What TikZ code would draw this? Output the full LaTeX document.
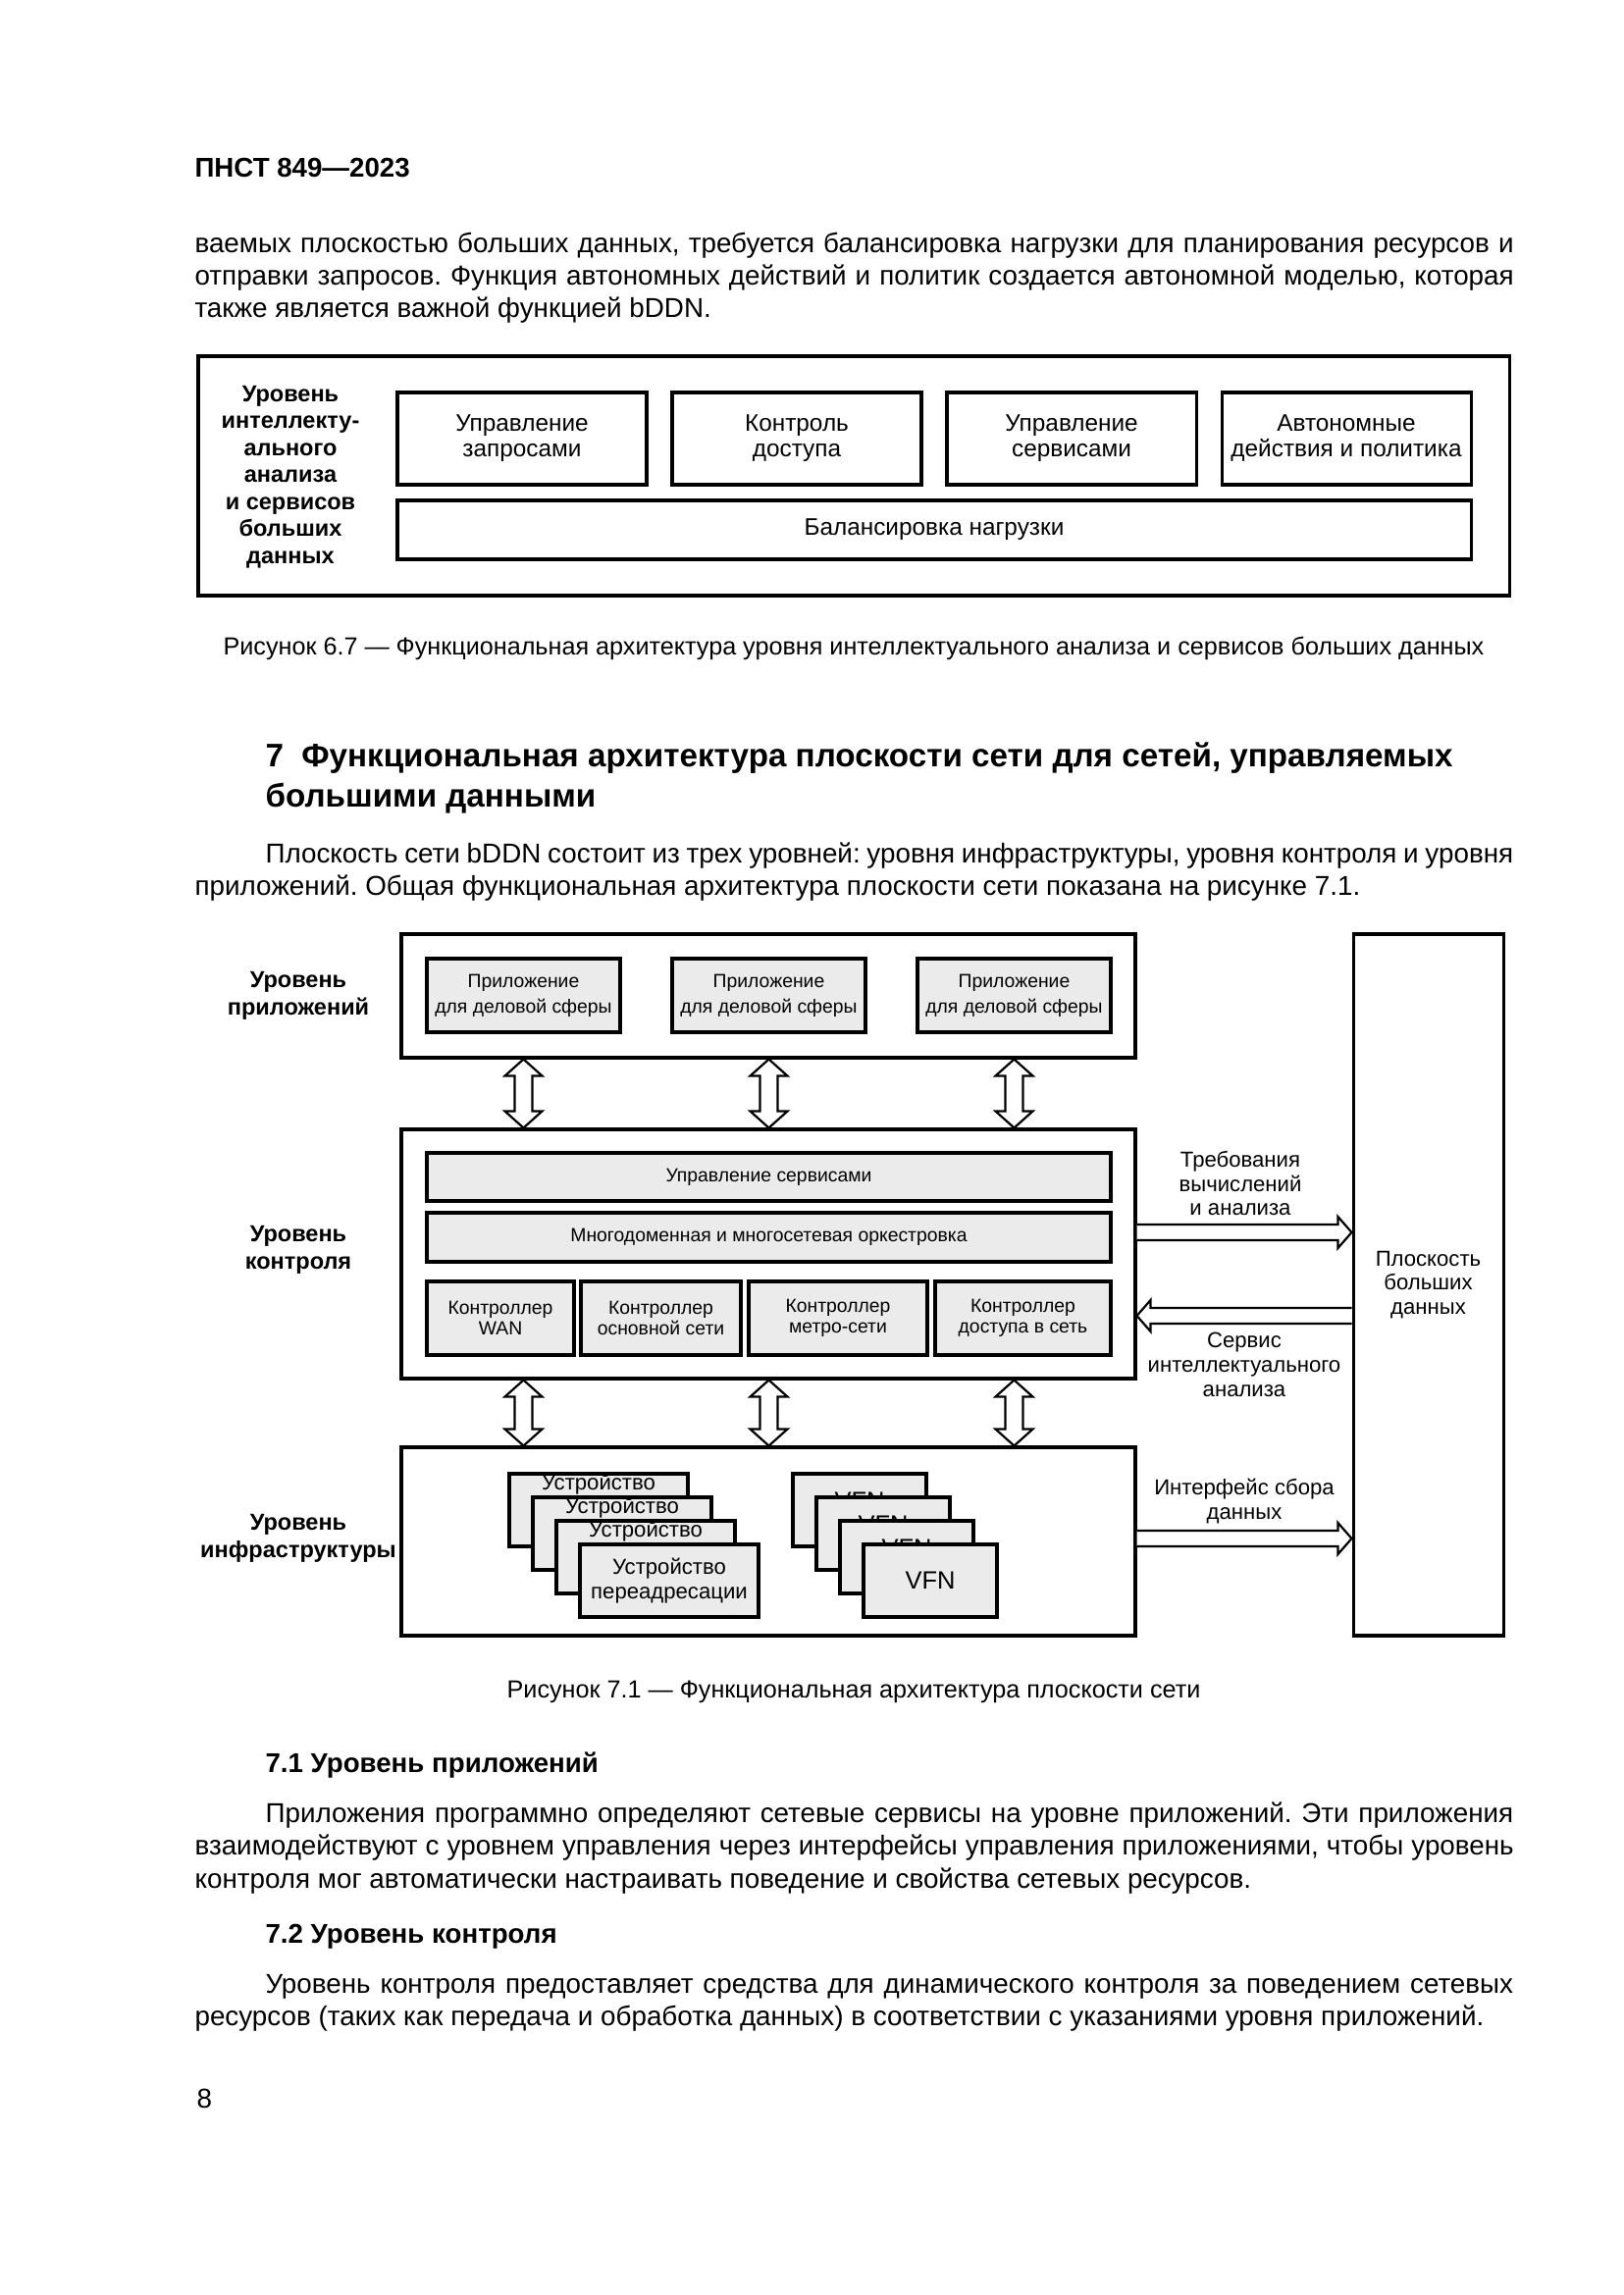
\documentclass[tikz,border=0pt]{standalone}
\usepackage{fontspec}
\setmainfont{Liberation Sans}
\usetikzlibrary{calc}
\frenchspacing

\definecolor{boxgray}{HTML}{EBEBEB}

% justified text line of a given width
\newcommand{\jline}[2]{\makebox[#1][s]{#2}}
% hollow double arrow, vertical, from top tip (#1) to bottom tip (#2)
\newcommand{\vblock}[2]{%
  \draw[blockarrow] (#1) -- ++(19,17) -- ++(-10,0) -- ($(#2)+(9,-17)$) -- ++(10,0) -- (#2)
    -- ++(-19,-17) -- ++(10,0) -- ($(#1)+(-9,17)$) -- ++(-10,0) -- cycle;}
% open hollow arrow, horizontal, from tail (#1) to tip (#2), #3 = signed head length
\newcommand{\hblock}[3]{%
  \draw[blockarrow] ($(#1)+(0,-8)$) -- ($(#2)+({-(#3)},-8)$) -- ++(0,-8) -- (#2)
    -- ++({-(#3)},16) -- ++(0,-8) -- ($(#1)+(0,8)$);}

\begin{document}
\begin{tikzpicture}[x=0.127mm, y=-0.127mm,
    wh/.style 2 args={minimum width=#1*0.127mm, minimum height=#2*0.127mm},
    txt/.style={anchor=base west, inner sep=0pt, font=\fontsize{10.05}{12}\selectfont},
    bold/.style={txt, font=\bfseries\fontsize{10}{12}\selectfont},
    head/.style={txt, font=\bfseries\fontsize{12}{14}\selectfont},
    figcap/.style={anchor=base, inner sep=0pt, font=\fontsize{9.1}{11}\selectfont},
    frame/.style={draw, line width=1.1pt, inner sep=0pt},
    wbox/.style={draw, line width=1.1pt, inner sep=0pt, align=center, font=\fontsize{8.8}{9.4}\selectfont},
    gbox/.style={draw, fill=boxgray, line width=1.1pt, inner sep=0pt, align=center, font=\fontsize{7}{9.4}\selectfont},
    cbox/.style={gbox, font=\fontsize{7}{7.8}\selectfont},
    dbox/.style={gbox, font=\fontsize{8}{9}\selectfont},
    level/.style={inner sep=0pt, align=center, font=\bfseries\fontsize{8.5}{10}\selectfont},
    side/.style={inner sep=0pt, align=center, font=\fontsize{8}{9}\selectfont},
    blockarrow/.style={draw, fill=white, line width=0.8pt, line join=miter}
]
    \useasboundingbox (0,0) rectangle (1654,2339);
    \fill[white] (0,0) rectangle (1654,2339);

    % page text, top
    \node[bold] (hdr) at (198,181) {ПНСТ 849—2023};
    \node[txt] (p1a) at (198,258) {\jline{170.7mm}{ваемых плоскостью больших данных, требуется балансировка нагрузки для планирования ресурсов и}};
    \node[txt] (p1b) at (198,291) {\jline{170.7mm}{отправки запросов. Функция автономных действий и политик создается автономной моделью, которая}};
    \node[txt] (p1c) at (198,324) {также является важной функцией bDDN.};

    % Figure 6.7
    \node[frame, wh={1336}{244}] (fig67) at (870,485) {};
    \node[level, font=\bfseries\fontsize{8.5}{9.94}\selectfont] (lvl67) at (296,486) {Уровень\\интеллекту-\\ального\\анализа\\и сервисов\\больших\\данных};
    \node[wbox, wh={254}{94}] (reqm) at (532,447) {Управление\\запросами};
    \node[wbox, wh={254}{94}] (acc) at (812,447) {Контроль\\доступа};
    \node[wbox, wh={254}{94}] (svcm) at (1092,447) {Управление\\сервисами};
    \node[wbox, wh={254}{94}] (auto) at (1372,447) {Автономные\\действия и политика};
    \node[wbox, wh={1094}{60}] (lb) at (952,540) {Балансировка нагрузки};
    \node[figcap] (cap67) at (870,668) {Рисунок 6.7 — Функциональная архитектура уровня интеллектуального анализа и сервисов больших данных};

    % section 7
    \node[head] (sec7a) at (270,782) {7\hspace{0.55em}Функциональная архитектура плоскости сети для сетей, управляемых};
    \node[head] (sec7b) at (270,822) {большими данными};
    \node[txt] (p2a) at (270,879) {\jline{161.5mm}{Плоскость сети bDDN состоит из трех уровней: уровня инфраструктуры, уровня контроля и уровня}};
    \node[txt] (p2b) at (198,912) {приложений. Общая функциональная архитектура плоскости сети показана на рисунке 7.1.};

    % Figure 7.1, levels
    \node[frame, wh={748}{126}] (appL) at (783,1015) {};
    \node[frame, wh={748}{254}] (ctl) at (783,1278) {};
    \node[frame, wh={748}{192}] (infra) at (783,1571) {};
    \node[frame, wh={153}{715}, align=center, font=\fontsize{8}{9}\selectfont] (big) at (1455.5,1309.5) {Плоскость\\больших\\данных};
    \node[level] (lvlapp) at (304,1015) {Уровень\\приложений};
    \node[level] (lvlctl) at (304,1274) {Уровень\\контроля};
    \node[level] (lvlinf) at (304,1568) {Уровень\\инфраструктуры};

    % applications
    \foreach \i/\x in {1/533.5,2/783.5,3/1033.5}
        \node[gbox, wh={197}{75}] (app\i) at (\x,1014.5) {Приложение\\для деловой сферы};

    % control
    \node[gbox, wh={697}{49}] (svc) at (783.5,1199.5) {Управление сервисами};
    \node[gbox, wh={697}{50}] (orch) at (783.5,1261) {Многодоменная и многосетевая оркестровка};
    \node[cbox, wh={150}{75}] (wan) at (510,1343.5) {Контроллер\\WAN};
    \node[cbox, wh={163}{75}] (core) at (673.5,1343.5) {Контроллер\\основной сети};
    \node[cbox, wh={182}{75}] (metro) at (854,1343.5) {Контроллер\\метро-сети};
    \node[cbox, wh={179}{75}] (access) at (1042.5,1343.5) {Контроллер\\доступа в сеть};

    % infrastructure
    \foreach \k in {1,2,3} {
        \node[dbox, wh={182}{74}] (dev\k) at ({610+24*(\k-1)},{1539+24*(\k-1)}) {};
        \node[inner sep=0pt, font=\fontsize{8}{9}\selectfont] at ($(dev\k.north)+(0,12)$) {Устройство};
    }
    \node[dbox, wh={182}{74}] (dev4) at (682,1611) {Устройство\\переадресации};
    \foreach \k in {1,2,3} {
        \node[dbox, wh={136}{74}] (vfn\k) at ({876+24*(\k-1)},{1539+24*(\k-1)}) {};
        \node[inner sep=0pt, font=\fontsize{9.2}{11}\selectfont] at ($(vfn\k.north)+(0,29)$) {VFN};
    }
    \node[dbox, wh={136}{74}, font=\fontsize{9.2}{11}\selectfont] (vfn4) at (948,1611) {VFN};

    % vertical block arrows
    \foreach \i in {1,2,3} {
        \coordinate (ua\i) at (app\i |- appL.south);
        \coordinate (ub\i) at (app\i |- ctl.north);
        \vblock{ua\i}{ub\i}
        \coordinate (uc\i) at (app\i |- ctl.south);
        \coordinate (ud\i) at (app\i |- infra.north);
        \vblock{uc\i}{ud\i}
    }

    % arrows to and from the big data plane
    \coordinate (rqa) at ($(ctl.east)+(0,-22)$);
    \coordinate (rqb) at (rqa -| big.west);
    \hblock{rqa}{rqb}{14}
    \coordinate (aib) at ($(ctl.east)+(0,63)$);
    \coordinate (aia) at (aib -| big.west);
    \hblock{aia}{aib}{-14}
    \coordinate (cla) at ($(infra.east)+(0,-3)$);
    \coordinate (clb) at (cla -| big.west);
    \hblock{cla}{clb}{14}
    \node[side] (reqtxt) at (1264,1206) {Требования\\вычислений\\и анализа};
    \node[side] (aitxt) at (1268,1391) {Сервис\\интеллектуального\\анализа};
    \node[side] (coltxt) at (1268,1530) {Интерфейс сбора\\данных};

    \node[figcap] (cap71) at (870,1730) {Рисунок 7.1 — Функциональная архитектура плоскости сети};

    % page text, bottom
    \node[bold] (s71) at (270,1806) {7.1 Уровень приложений};
    \node[txt] (p3a) at (270,1857) {\jline{161.5mm}{Приложения программно определяют сетевые сервисы на уровне приложений. Эти приложения}};
    \node[txt] (p3b) at (198,1890) {\jline{170.7mm}{взаимодействуют с уровнем управления через интерфейсы управления приложениями, чтобы уровень}};
    \node[txt] (p3c) at (198,1924) {контроля мог автоматически настраивать поведение и свойства сетевых ресурсов.};
    \node[bold] (s72) at (270,1980) {7.2 Уровень контроля};
    \node[txt] (p4a) at (270,2031) {\jline{161.5mm}{Уровень контроля предоставляет средства для динамического контроля за поведением сетевых}};
    \node[txt] (p4b) at (198,2064) {ресурсов (таких как передача и обработка данных) в соответствии с указаниями уровня приложений.};
    \node[txt] (pgno) at (200,2148) {8};
\end{tikzpicture}
\end{document}
